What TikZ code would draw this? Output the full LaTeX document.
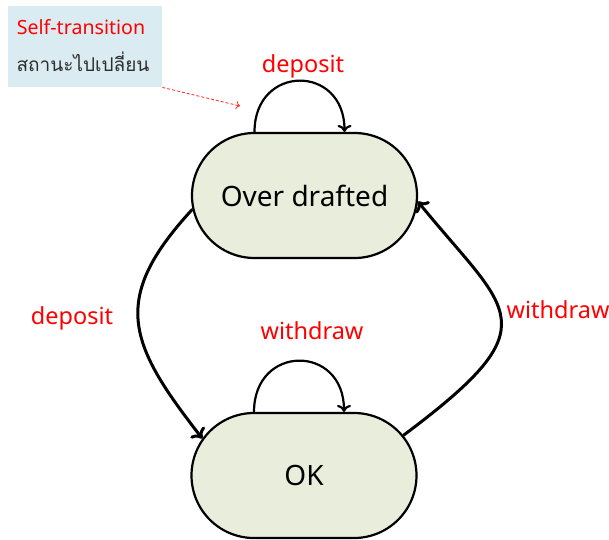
\documentclass[tikz,border=0pt]{standalone}
\usepackage{fontspec}
\setmainfont{Noto Sans}
\newfontfamily\thaifont[Script=Thai]{Loma}
\usetikzlibrary{shapes.misc,arrows.meta}
\definecolor{statefill}{RGB}{233,237,220}
\definecolor{notefill}{RGB}{218,235,242}
\definecolor{labelred}{RGB}{255,0,0}
\definecolor{notetext}{RGB}{45,45,45}
\begin{document}
\begin{tikzpicture}[x=1pt,y=-1pt,
  state/.style={rounded rectangle, draw=black, line width=2.2pt, fill=statefill,
    minimum width=225pt, minimum height=125pt, inner sep=0pt,
    font=\fontsize{28}{32}\selectfont},
  trans/.style={line width=3pt, -{To[length=9pt,width=18pt]}},
  selfloop/.style={line width=2.2pt, -{To[length=7pt,width=14pt]}},
  lbl/.style={text=labelred, inner sep=0pt, font=\fontsize{23.5}{28}\selectfont},
  notebox/.style={fill=notefill, inner sep=0pt, anchor=north west,
    minimum width=154pt, minimum height=81pt},
]
\useasboundingbox (0,0) rectangle (609,539);

% states
\node[state] (od) at (304.5,195.5) {Over drafted};
\node[state] (ok) at (304,475.5) {OK};

% self-transitions
\draw[selfloop] ([xshift=-50pt]od.north) .. controls +(0,-68) and +(0,-68) .. ([xshift=40pt]od.north);
\draw[selfloop] ([xshift=-50pt]ok.north) .. controls +(0,-68) and +(0,-68) .. ([xshift=40pt]ok.north);

% transitions between the states
\draw[trans] (od.187) .. controls +(-83,90) and +(-74,-95) .. (ok.160);
\draw[trans] (ok.22) .. controls +(150,-112) and +(91,112) .. (od.-3);

% transition labels
\node[lbl] (depTop) at (303,66) {deposit};
\node[lbl] (depLeft) at (72,318) {deposit};
\node[lbl] (wdMid) at (312,331) {withdraw};
\node[lbl] (wdRight) at (558,310) {withdraw};

% note about self-transitions
\node[notebox] (note) at (8,6) {};
\node[lbl, font=\fontsize{19.6}{24}\selectfont] (noteTitle) at (81,27) {Self-transition};
\node[inner sep=0pt, text=notetext, font=\thaifont\fontsize{19}{24}\selectfont] (noteThai) at (83,62) {สถานะไปเปลี่ยน};
\coordinate (noteTip) at (240,106);
\draw[labelred!85, line width=0.8pt, dash pattern=on 3pt off 2pt,
  -{To[length=4pt,width=8pt]}] (note.south east) -- (noteTip);
\end{tikzpicture}
\end{document}
